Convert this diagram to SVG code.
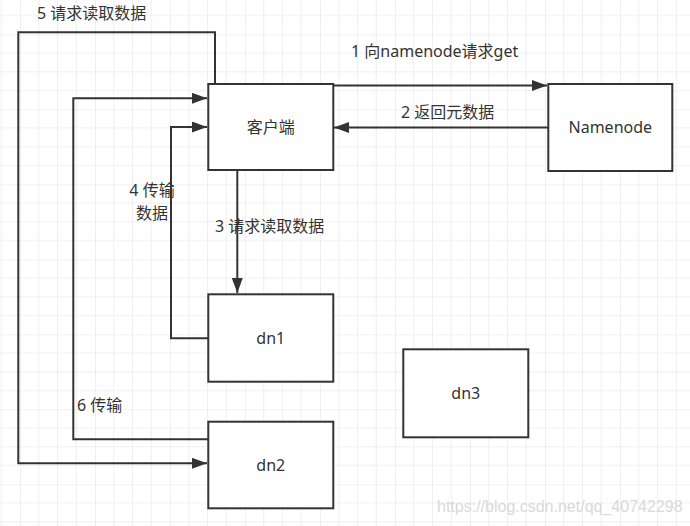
<svg xmlns="http://www.w3.org/2000/svg" width="690" height="526" viewBox="0 0 690 526">
<style>
.box{fill:#ffffff;stroke:#333333;stroke-width:2}
.edge{fill:none;stroke:#333333;stroke-width:2;marker-end:url(#arr)}
.lbl{font-family:"Noto Sans","Noto Sans CJK SC",sans-serif;font-size:16px;fill:#333333}
.mid{text-anchor:middle}
.wm{font-family:"Liberation Sans",Arial,sans-serif;font-size:16px;fill:#d9d9d9}
</style>
<defs>
<pattern id="grid" x="20" y="34.3" width="75" height="75" patternUnits="userSpaceOnUse">
<path d="M18.75 0V75M37.5 0V75M56.25 0V75M0 18.75H75M0 37.5H75M0 56.25H75" fill="none" stroke="#efefef" stroke-width="1"/>
<path d="M0 0V75M0 0H75" fill="none" stroke="#e4e4e4" stroke-width="1.2"/>
</pattern>
<marker id="arr" markerUnits="userSpaceOnUse" markerWidth="16" markerHeight="12" refX="15" refY="5.5" orient="auto">
<path d="M0 0L15 5.5L0 11Z" fill="#333333"/>
</marker>
</defs>
<rect width="690" height="526" fill="#ffffff"/>
<rect width="690" height="526" fill="url(#grid)"/>
<g id="connectors">
<path class="edge" d="M333 85.5H547"/>
<path class="edge" d="M548 127.5H334"/>
<path class="edge" d="M237.3 170V293"/>
<path class="edge" d="M208 338.3H171V127H207"/>
<path class="edge" d="M215 86V32.3H18.3V463.3H207"/>
<path class="edge" d="M208 439.3H73.3V98.3H207"/>
</g>
<g id="labels">
<text class="lbl" x="37" y="19">5 请求读取数据</text>
<text class="lbl" x="351" y="57">1 向namenode请求get</text>
<text class="lbl" x="401" y="118">2 返回元数据</text>
<text class="lbl" x="215" y="232">3 请求读取数据</text>
<text class="lbl mid" x="152" y="196">4 传输</text>
<text class="lbl mid" x="152" y="219">数据</text>
<text class="lbl" x="77" y="411">6 传输</text>
</g>
<g id="client"><rect class="box" x="208.3" y="84" width="125" height="86"/><text class="lbl mid" x="270.8" y="133">客户端</text></g>
<g id="namenode"><rect class="box" x="548.3" y="84" width="124" height="87"/><text class="lbl mid" x="610.3" y="133">Namenode</text></g>
<g id="dn1"><rect class="box" x="208.3" y="294.3" width="125" height="87.4"/><text class="lbl mid" x="270.8" y="344">dn1</text></g>
<g id="dn2"><rect class="box" x="208.3" y="421.7" width="125" height="86.6"/><text class="lbl mid" x="270.8" y="471">dn2</text></g>
<g id="dn3"><rect class="box" x="403.3" y="349.3" width="125" height="88"/><text class="lbl mid" x="465.8" y="399">dn3</text></g>
<text class="wm" x="437" y="512">https://blog.csdn.net/qq_40742298</text>
</svg>
